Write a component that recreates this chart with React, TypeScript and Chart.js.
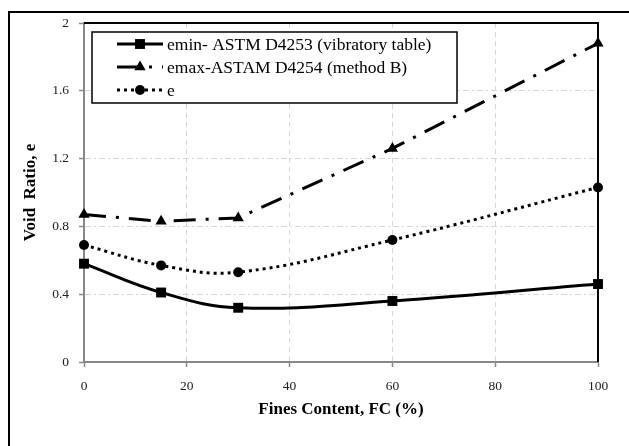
import React, { useEffect, useRef } from 'react';
import { Chart, registerables } from 'chart.js';

Chart.register(...registerables);

// ---- data ----
const finesContent = [0, 15, 30, 60, 100];
const eMinValues = [0.58, 0.41, 0.32, 0.36, 0.46];
const eMaxValues = [0.87, 0.83, 0.85, 1.26, 1.88];
const eValues = [0.69, 0.57, 0.53, 0.72, 1.03];
const xTickValues = [0, 20, 40, 60, 80, 100];
const yTickValues = [0, 0.4, 0.8, 1.2, 1.6, 2];
const seriesLabels = [
  'emin- ASTM D4253 (vibratory table)',
  'emax-ASTAM D4254 (method B)',
  'e',
];
const xTitle = 'Fines Content, FC (%)';
const yTitle = 'Void  Ratio, e';

const SERIF = '"Liberation Serif", "Times New Roman", serif';

const toPoints = (ys: number[]) => finesContent.map((x, i) => ({ x, y: ys[i] }));

function drawMarker(ctx: CanvasRenderingContext2D, style: string, x: number, y: number, r: number) {
  ctx.save();
  ctx.setLineDash([]);
  ctx.fillStyle = '#000';
  ctx.beginPath();
  if (style === 'rect') {
    const s = Math.SQRT1_2 * r;
    ctx.rect(x - s, y - s, 2 * s, 2 * s);
  } else if (style === 'triangle') {
    ctx.moveTo(x, y - r);
    ctx.lineTo(x + r * Math.sin(Math.PI / 3), y + r * 0.5);
    ctx.lineTo(x - r * Math.sin(Math.PI / 3), y + r * 0.5);
    ctx.closePath();
  } else {
    ctx.arc(x, y, r, 0, Math.PI * 2);
  }
  ctx.fill();
  ctx.restore();
}

const framePlugin = {
  id: 'framePlugin',
  beforeDraw(chart: any) {
    const ctx = chart.ctx as CanvasRenderingContext2D;
    ctx.save();
    ctx.fillStyle = '#fff';
    ctx.fillRect(0, 0, chart.width, chart.height);
    ctx.strokeStyle = '#000';
    ctx.lineWidth = 2;
    ctx.beginPath();
    ctx.moveTo(9, chart.height + 10);
    ctx.lineTo(9, 12);
    ctx.lineTo(chart.width + 10, 12);
    ctx.stroke();
    ctx.restore();
  },
  beforeDatasetsDraw(chart: any) {
    const ctx = chart.ctx as CanvasRenderingContext2D;
    const { left, right, top, bottom } = chart.chartArea;
    ctx.save();
    ctx.strokeStyle = '#000';
    ctx.lineWidth = 2;
    ctx.beginPath();
    ctx.moveTo(left, top);
    ctx.lineTo(right, top);
    ctx.lineTo(right, bottom);
    ctx.stroke();
    ctx.restore();
  },
  afterDraw(chart: any) {
    const ctx = chart.ctx as CanvasRenderingContext2D;
    const bx = 92, by = 32, bw = 365, bh = 71;
    ctx.save();
    ctx.fillStyle = '#fff';
    ctx.fillRect(bx, by, bw, bh);
    ctx.strokeStyle = '#000';
    ctx.lineWidth = 1.5;
    ctx.strokeRect(bx, by, bw, bh);
    const rows = [44, 67, 90];
    chart.data.datasets.forEach((ds: any, i: number) => {
      const y = rows[i];
      ctx.save();
      ctx.beginPath();
      ctx.rect(117, y - 6, 46, 12);
      ctx.clip();
      ctx.strokeStyle = '#000';
      ctx.lineWidth = ds.borderWidth;
      ctx.setLineDash(ds.borderDash || []);
      ctx.beginPath();
      ctx.moveTo(117, y);
      ctx.lineTo(163, y);
      ctx.stroke();
      ctx.restore();
      drawMarker(ctx, ds.pointStyle, 140, y, ds.pointRadius);
      ctx.fillStyle = '#000';
      ctx.font = `17.5px ${SERIF}`;
      ctx.textBaseline = 'middle';
      ctx.textAlign = 'left';
      ctx.fillText(seriesLabels[i], 167, y + 1);
    });
    ctx.restore();
  },
};

export default function App() {
  const canvasRef = useRef<HTMLCanvasElement | null>(null);

  useEffect(() => {
    const canvas = canvasRef.current;
    if (!canvas) return;
    const tickFont = { family: SERIF, size: 13.5 };
    const titleFont = { family: SERIF, size: 17, weight: 'bold' as const };
    const chart = new Chart(canvas, {
      type: 'line',
      data: {
        datasets: [
          {
            label: seriesLabels[0],
            data: toPoints(eMinValues),
            borderColor: '#000',
            backgroundColor: '#000',
            borderWidth: 3,
            tension: 0.4,
            pointStyle: 'rect',
            pointRadius: 7,
            pointBorderWidth: 0,
            clip: false,
          },
          {
            label: seriesLabels[1],
            data: toPoints(eMaxValues),
            borderColor: '#000',
            backgroundColor: '#000',
            borderWidth: 3,
            borderDash: [22, 10, 3, 10],
            tension: 0,
            pointStyle: 'triangle',
            pointRadius: 6.5,
            pointBorderWidth: 0,
            clip: false,
          },
          {
            label: seriesLabels[2],
            data: toPoints(eValues),
            borderColor: '#000',
            backgroundColor: '#000',
            borderWidth: 3,
            borderDash: [3, 4],
            tension: 0.4,
            pointStyle: 'circle',
            pointRadius: 5,
            pointBorderWidth: 0,
            clip: false,
          },
        ] as any,
      },
      options: {
        responsive: false,
        devicePixelRatio: 1,
        animation: false,
        layout: { padding: { top: 23, right: 31, left: 0, bottom: 0 } },
        plugins: {
          legend: { display: false },
          tooltip: { enabled: false },
        },
        scales: {
          x: {
            type: 'linear',
            position: 'bottom',
            min: 0,
            max: 100,
            afterFit: (s: any) => { s.height = 84; },
            afterBuildTicks: (s: any) => { s.ticks = xTickValues.map((v) => ({ value: v })); },
            grid: { color: '#d6d6d6', lineWidth: 1, tickLength: 5, tickColor: '#888', tickWidth: 1.5 },
            border: { color: '#888', width: 2, dash: [5, 4] },
            ticks: { font: tickFont, color: '#222', padding: 11, maxRotation: 0, autoSkip: false },
            title: { display: true, text: xTitle, font: titleFont, color: '#000', padding: { top: 0, bottom: 26 } },
          },
          y: {
            type: 'linear',
            position: 'left',
            min: 0,
            max: 2,
            afterFit: (s: any) => { s.width = 84; },
            afterBuildTicks: (s: any) => { s.ticks = yTickValues.map((v) => ({ value: v })); },
            grid: { color: '#d6d6d6', lineWidth: 1, tickLength: 5, tickColor: '#888', tickWidth: 1.5 },
            border: { color: '#888', width: 2, dash: [6, 3, 2, 3] },
            ticks: {
              font: tickFont,
              color: '#222',
              padding: 10,
              autoSkip: false,
              callback: (v: any) => String(Number(Number(v).toFixed(1))),
            },
            title: { display: true, text: yTitle, font: titleFont, color: '#000', padding: { top: 20, bottom: 0 } },
          },
        },
      } as any,
      plugins: [framePlugin],
    });
    return () => chart.destroy();
  }, []);

  return (
    <div style={{ position: 'fixed', left: 0, top: 0, width: 629, height: 446, overflow: 'hidden', background: '#fff' }}>
      <canvas ref={canvasRef} width={629} height={446} style={{ display: 'block' }} />
    </div>
  );
}
